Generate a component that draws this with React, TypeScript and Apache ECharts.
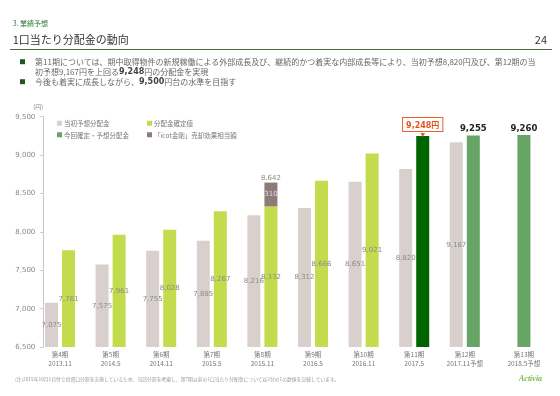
import React, { useEffect, useRef } from "react";
import * as echarts from "echarts";

const categories = [
  "第4期\n2013.11",
  "第5期\n2014.5",
  "第6期\n2014.11",
  "第7期\n2015.5",
  "第8期\n2015.11",
  "第9期\n2016.5",
  "第10期\n2016.11",
  "第11期\n2017.5",
  "第12期\n2017.11予想",
  "第13期\n2018.5予想",
];
const seriesNames = ["当初予想分配金", "分配金確定値", "今回確定・予想分配金", "「icot金剛」売却効果相当額"];
const initialForecast = [7075, 7575, 7755, 7885, 8216, 8312, 8651, 8820, 9167, null];
const confirmedDps = [7761, 7961, 8028, 8267, 8332, 8666, 9021, null, null, null];
const latestDps = [null, null, null, null, null, null, null, 9248, 9255, 9260];
const icotEffect = [null, null, null, null, 310, null, null, null, null, null];
const yMin = 6500;
const yMax = 9500;
const yStep = 500;
const highlightIndex = 7;

const fmt = (v: number) => Number(v).toLocaleString("en-US");
const NUM_FONT = "'DejaVu Sans', 'Noto Sans CJK JP', sans-serif";
const JP_FONT = "'Noto Sans CJK JP', sans-serif";

export default function App() {
  const ref = useRef<HTMLDivElement>(null);
  useEffect(() => {
    if (!ref.current) return;
    const chart = echarts.init(ref.current, null, { renderer: "svg" });
    const valueLabel = {
      show: true,
      position: "inside",
      color: "#8a8a8a",
      fontSize: 7,
      fontFamily: NUM_FONT,
      formatter: (p: any) => fmt(p.value),
    };
    const totals = icotEffect.map((v) => (v != null ? 0 : null));
    const xData = categories.map((c, i) =>
      i === categories.length - 1 ? { value: c, textStyle: { padding: [0, 0, 0, 17] } } : c
    );
    const latestData = latestDps.map((v, i) => {
      if (v == null) return null;
      if (i === highlightIndex) {
        return {
          value: v,
          itemStyle: { color: "#006400" },
          label: {
            show: true,
            position: "top",
            distance: 0,
            formatter: (p: any) => `{box|${fmt(p.value)}円}\n{arr|▼}`,
            rich: {
              box: {
                borderColor: "#e8602c",
                borderWidth: 1,
                backgroundColor: "#ffffff",
                padding: [3, 3, 2, 3],
                color: "#e2561d",
                fontWeight: "bold",
                fontSize: 8,
                fontFamily: NUM_FONT,
                align: "center",
              },
              arr: { color: "#e8602c", fontSize: 5, lineHeight: 5, align: "center" },
            },
          },
        };
      }
      return {
        value: v,
        label: {
          show: true,
          position: "top",
          distance: 3,
          color: "#222",
          fontWeight: "bold",
          fontSize: 8.5,
          fontFamily: NUM_FONT,
          formatter: (p: any) => fmt(p.value),
        },
      };
    });

    const legendCommon = {
      orient: "vertical",
      top: 120,
      itemWidth: 5,
      itemHeight: 5,
      itemGap: 5,
      icon: "rect",
      padding: 0,
      selectedMode: false,
      textStyle: { fontSize: 6.5, color: "#777", fontFamily: JP_FONT, padding: [0, 0, 0, -3] },
    };

    chart.setOption({
      animation: false,
      textStyle: { fontFamily: JP_FONT },
      grid: { left: 34.7, right: 19.3, top: 116.7, bottom: 49, containLabel: false },
      legend: [
        { ...legendCommon, left: 57, data: [seriesNames[0], seriesNames[2]] },
        { ...legendCommon, left: 147, data: [seriesNames[1], seriesNames[3]] },
      ],
      xAxis: {
        type: "category",
        data: xData,
        axisLine: { show: false },
        axisTick: { show: false },
        axisLabel: {
          interval: 0,
          fontSize: 6.5,
          lineHeight: 8.5,
          color: "#777",
          margin: 3,
          fontFamily: JP_FONT,
        },
      },
      yAxis: {
        type: "value",
        min: yMin,
        max: yMax,
        interval: yStep,
        offset: -8.6,
        name: "(円)",
        nameLocation: "end",
        nameGap: 7,
        nameTextStyle: { fontSize: 6, color: "#888", align: "right", fontFamily: JP_FONT },
        axisLine: { show: true, lineStyle: { color: "#c8c8c8", width: 1 } },
        axisTick: { show: true, length: 3, lineStyle: { color: "#c8c8c8" } },
        splitLine: { show: false },
        axisLabel: { fontSize: 7, color: "#888", fontFamily: NUM_FONT, margin: 8, formatter: (v: number) => fmt(v) },
      },
      series: [
        {
          name: seriesNames[0],
          type: "bar",
          data: initialForecast,
          barWidth: 13,
          barGap: "31%",
          itemStyle: { color: "#d9d0ce" },
          label: valueLabel,
        },
        {
          name: seriesNames[1],
          type: "bar",
          stack: "b",
          data: confirmedDps,
          barWidth: 13,
          barGap: "31%",
          itemStyle: { color: "#c3dc4e" },
          label: valueLabel,
        },
        {
          name: seriesNames[2],
          type: "bar",
          stack: "b",
          data: latestData,
          barWidth: 13,
          barGap: "31%",
          itemStyle: { color: "#67a567" },
        },
        {
          name: seriesNames[3],
          type: "bar",
          stack: "b",
          data: icotEffect,
          barWidth: 13,
          barGap: "31%",
          itemStyle: { color: "#8c7b78" },
          label: { ...valueLabel, color: "#e6dcdc" },
        },
        {
          name: "total",
          type: "bar",
          stack: "b",
          data: totals,
          barWidth: 13,
          barGap: "31%",
          itemStyle: { color: "transparent" },
          label: {
            show: true,
            position: "top",
            distance: 1,
            color: "#8a8a8a",
            fontSize: 7,
            fontFamily: NUM_FONT,
            formatter: (p: any) => fmt((confirmedDps[p.dataIndex] || 0) + (icotEffect[p.dataIndex] || 0)),
          },
        },
      ],
      graphic: [
        {
          type: "text",
          x: 12.7,
          y: 23.3,
          style: { text: "3. 業績予想", fontSize: 7, fill: "#2f7a2f", fontFamily: JP_FONT, verticalAlign: "middle", textVerticalAlign: "middle" },
        },
        {
          type: "text",
          x: 12.7,
          y: 39.3,
          style: { text: "1口当たり分配金の動向", fontSize: 11, fill: "#333", fontFamily: JP_FONT, verticalAlign: "middle", textVerticalAlign: "middle" },
        },
        {
          type: "text",
          x: 547,
          y: 39.3,
          style: { text: "24", fontSize: 11, fill: "#333", fontFamily: JP_FONT, align: "right", textAlign: "right", verticalAlign: "middle", textVerticalAlign: "middle" },
        },
        {
          type: "line",
          shape: { x1: 10, y1: 49.5, x2: 552, y2: 49.5 },
          style: { stroke: "#4d6e3d", lineWidth: 1 },
        },
        { type: "rect", shape: { x: 20, y: 59.2, width: 5, height: 5 }, style: { fill: "#1e5a1e" } },
        { type: "rect", shape: { x: 20, y: 79.2, width: 5, height: 5 }, style: { fill: "#1e5a1e" } },
        {
          type: "text",
          x: 35,
          y: 56.7,
          style: {
            text:
              "第11期については、期中取得物件の新規稼働による外部成長及び、継続的かつ着実な内部成長等により、当初予想8,820円及び、第12期の当\n初予想9,167円を上回る{b|9,248}円の分配金を実現",
            fontSize: 8,
            lineHeight: 10,
            fill: "#666",
            fontFamily: JP_FONT,
            rich: { b: { fontSize: 8, fontWeight: "bold", fill: "#444", fontFamily: NUM_FONT, lineHeight: 10 } },
          },
        },
        {
          type: "text",
          x: 35,
          y: 76.7,
          style: {
            text: "今後も着実に成長しながら、{b|9,500}円台の水準を目指す",
            fontSize: 8,
            lineHeight: 10,
            fill: "#666",
            fontFamily: JP_FONT,
            rich: { b: { fontSize: 8, fontWeight: "bold", fill: "#444", fontFamily: NUM_FONT, lineHeight: 10 } },
          },
        },
        {
          type: "text",
          x: 15,
          y: 378,
          style: {
            text: "(注)2015年10月1日付で投資口分割を実施しているため、当該分割を考慮し、第7期以前の1口当たり分配金については2分の1の数値を記載しています。",
            fontSize: 4.8,
            fill: "#999",
            fontFamily: JP_FONT,
            verticalAlign: "middle",
            textVerticalAlign: "middle",
          },
        },
        {
          type: "text",
          x: 519,
          y: 378,
          style: {
            text: "Activia",
            fontSize: 8,
            fontStyle: "italic",
            fontWeight: "bold",
            fill: "#7dbb42",
            fontFamily: "'Liberation Serif', serif",
            verticalAlign: "middle",
            textVerticalAlign: "middle",
          },
        },
      ],
    });
    return () => chart.dispose();
  }, []);
  return <div ref={ref} style={{ position: "fixed", left: 0, top: 0, width: 560, height: 396 }} />;
}
